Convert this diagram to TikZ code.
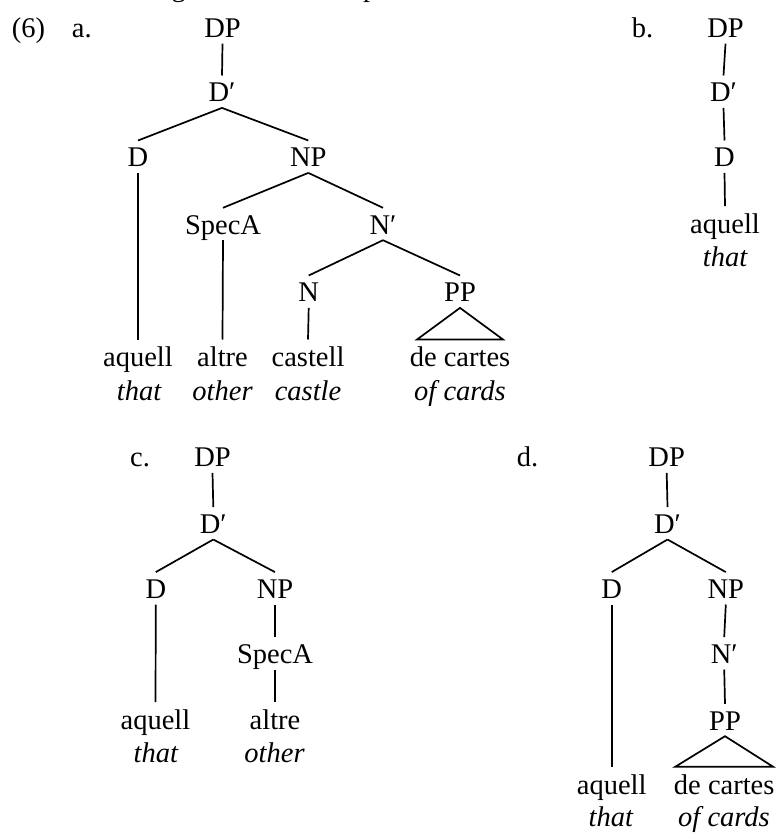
\documentclass[tikz,border=0pt]{standalone}
\usepackage{fontspec}
\setmainfont{Liberation Serif}
\begin{document}
\begin{tikzpicture}[x=1pt,y=-1pt,
  every node/.style={inner sep=0pt, font=\fontsize{28.5}{34}\selectfont},
  cat/.style={anchor=base, text height=26pt, text depth=6pt},
  word/.style={anchor=base, text height=27pt, text depth=0pt},
  gloss/.style={anchor=base, font=\fontsize{28.5}{34}\selectfont\itshape},
  tag/.style={anchor=base west},
  branch/.style={line width=1.7pt, line join=miter},
]
\useasboundingbox (0,0) rectangle (778,834);
\clip (0,0) rectangle (778,834);

% tail of the preceding text line
\node[tag] (tailg) at (171.5,-3) {g};
\node[tag] (tailp) at (363,-3) {p};

% ---------------- (6a) ----------------
\node[tag] (ex) at (11.7,37.5) {(6)};
\node[tag] (la) at (71.7,37.5) {a.};
\node[cat] (aDP) at (222.5,37.5) {DP};
\node[cat] (aDb) at (222,101.7) {D′};
\node[cat] (aD)  at (138,166.7) {D};
\node[cat] (aNP) at (308.3,166.7) {NP};
\node[cat] (aSA) at (223,234) {SpecA};
\node[cat] (aNb) at (383,234) {N′};
\node[cat] (aN)  at (308.7,301.7) {N};
\node[cat] (aPP) at (460,301.7) {PP};
\node[word] (aW1) at (138,366.7) {aquell};
\node[word] (aW2) at (222.5,366.7) {altre};
\node[word] (aW3) at (308,366.7) {castell};
\node[word] (aW4) at (460,366.7) {de cartes};
\node[gloss] (aG1) at (139,400) {that};
\node[gloss] (aG2) at (222.5,400) {other};
\node[gloss] (aG3) at (308,400) {castle};
\node[gloss] (aG4) at (460,400) {of cards};

\draw[branch] (aDP.south) -- (aDb.north);
\draw[branch] (aDb.south) -- (aD.north);
\draw[branch] (aDb.south) -- (aNP.north);
\draw[branch] (aNP.south) -- (aSA.north);
\draw[branch] (aNP.south) -- (aNb.north);
\draw[branch] (aNb.south) -- (aN.north);
\draw[branch] (aNb.south) -- (aPP.north);
\draw[branch] (aD.south) -- (aW1.north);
\draw[branch] (aSA.south) -- (aW2.north);
\draw[branch] (aN.south) -- (aW3.north);
\draw[branch] (aPP.south) -- ([xshift=-43pt]aW4.north) -- ([xshift=43pt]aW4.north) -- cycle;

% ---------------- (6b) ----------------
\node[tag] (lb) at (631.7,37.5) {b.};
\node[cat] (bDP) at (725.5,37.5) {DP};
\node[cat] (bDb) at (723.5,101.7) {D′};
\node[cat] (bD)  at (724.5,166.7) {D};
\node[word] (bW1) at (725,233.3) {aquell};
\node[gloss] (bG1) at (725,266.7) {that};

\draw[branch] (bDP.south) -- (bDb.north);
\draw[branch] (bDb.south) -- (bD.north);
\draw[branch] (bD.south) -- (bW1.north);

% ---------------- (6c) ----------------
\node[tag] (lc) at (130,466.7) {c.};
\node[cat] (cDP) at (212.5,466.7) {DP};
\node[cat] (cDb) at (213.3,533.3) {D′};
\node[cat] (cD)  at (155.8,598.3) {D};
\node[cat] (cNP) at (275,598.3) {NP};
\node[cat] (cSA) at (275,663.3) {SpecA};
\node[word] (cW1) at (155.5,729.3) {aquell};
\node[word] (cW2) at (275,729.3) {altre};
\node[gloss] (cG1) at (155.8,762) {that};
\node[gloss] (cG2) at (274.5,762) {other};

\draw[branch] (cDP.south) -- (cDb.north);
\draw[branch] (cDb.south) -- (cD.north);
\draw[branch] (cDb.south) -- (cNP.north);
\draw[branch] (cNP.south) -- (cSA.north);
\draw[branch] (cD.south) -- (cW1.north);
\draw[branch] (cSA.south) -- (cW2.north);

% ---------------- (6d) ----------------
\node[tag] (ld) at (516.7,466.7) {d.};
\node[cat] (dDP) at (666.7,466.7) {DP};
\node[cat] (dDb) at (667.5,533.3) {D′};
\node[cat] (dD)  at (611.7,598.3) {D};
\node[cat] (dNP) at (725.8,598.3) {NP};
\node[cat] (dNb) at (724.2,663.3) {N′};
\node[cat] (dPP) at (725,730) {PP};
\node[word] (dW1) at (611.7,794) {aquell};
\node[word] (dW2) at (724.2,794) {de cartes};
\node[gloss] (dG1) at (610.8,826) {that};
\node[gloss] (dG2) at (724,826) {of cards};

\draw[branch] (dDP.south) -- (dDb.north);
\draw[branch] (dDb.south) -- (dD.north);
\draw[branch] (dDb.south) -- (dNP.north);
\draw[branch] (dNP.south) -- (dNb.north);
\draw[branch] (dNb.south) -- (dPP.north);
\draw[branch] (dD.south) -- (dW1.north);
\draw[branch] (dPP.south) -- ([xshift=-49pt]dW2.north) -- ([xshift=49pt]dW2.north) -- cycle;
\end{tikzpicture}
\end{document}
